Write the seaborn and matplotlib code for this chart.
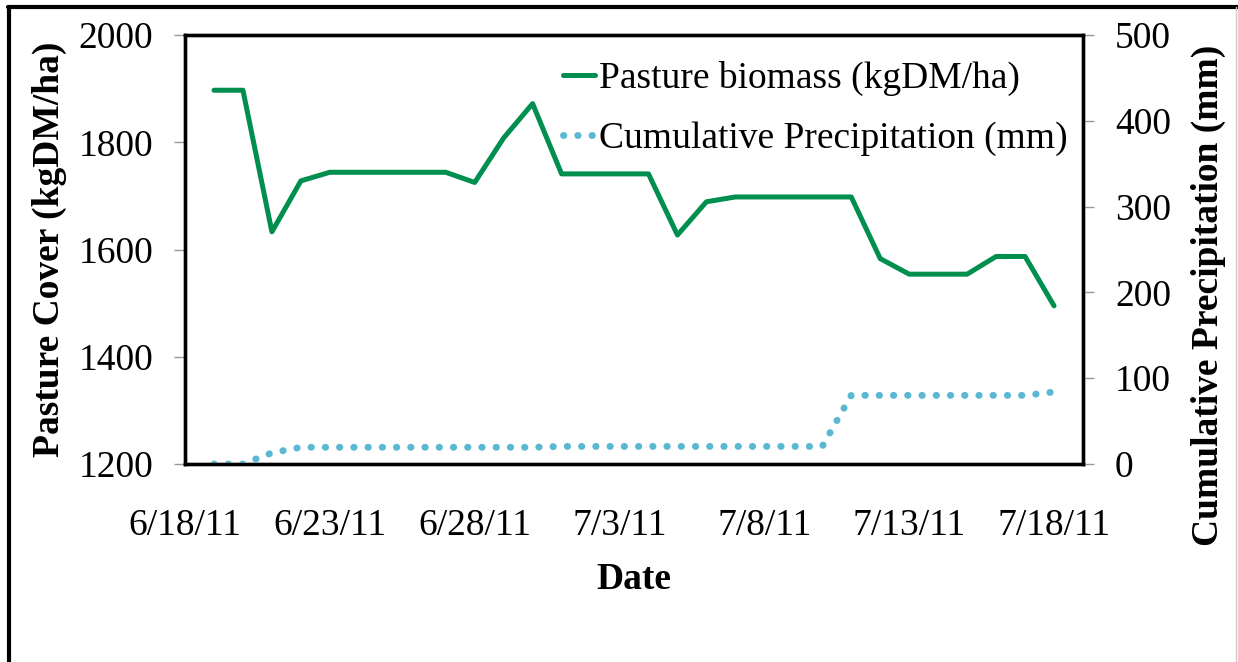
import matplotlib
matplotlib.use("Agg")
import matplotlib.pyplot as plt
import matplotlib.ticker as mticker
import matplotlib.dates as mdates
from matplotlib.lines import Line2D
import pandas as pd
import seaborn as sns

# data (one value per day, 6/19/11 .. 7/18/11)
dates = pd.date_range("2011-06-19", "2011-07-18", freq="D")
biomass = [1897, 1897, 1633, 1728, 1744, 1744, 1744, 1744, 1744, 1725,
           1808, 1872, 1741, 1741, 1741, 1741, 1627, 1689, 1698, 1698,
           1698, 1698, 1698, 1583, 1554, 1554, 1554, 1587, 1587, 1495]
precip = [0, 0, 13, 19.5, 19.5, 19.5, 19.5, 19.5, 19.5, 19.5,
          19.5, 19.5, 20.5, 20.5, 20.5, 20.5, 20.5, 20.5, 20.5, 20.5,
          20.5, 20.5, 80, 80, 80, 80, 80, 80, 80, 84]
tick_dates = pd.to_datetime(["2011-06-18", "2011-06-23", "2011-06-28", "2011-07-03",
                             "2011-07-08", "2011-07-13", "2011-07-18"])

df = pd.DataFrame({"date": dates, "biomass": biomass, "precip": precip})

sns.set_style("white")
plt.rcParams["font.family"] = ["Liberation Serif", "DejaVu Serif"]
plt.rcParams["font.size"] = 27
plt.rcParams["text.color"] = "black"
plt.rcParams["axes.labelcolor"] = "black"
plt.rcParams["xtick.labelcolor"] = "black"
plt.rcParams["ytick.labelcolor"] = "black"

fs = 27
green = "#008F4E"
blue = "#5BB8D3"

fig = plt.figure(figsize=(12.38, 6.62), dpi=100)
ax = fig.add_axes([185 / 1238, 1 - 464 / 662, 898 / 1238, 429 / 662])
ax2 = ax.twinx()

sns.lineplot(data=df, x="date", y="biomass", ax=ax, color=green, linewidth=3.6,
             label="Pasture biomass (kgDM/ha)", legend=False)
sns.lineplot(data=df, x="date", y="precip", ax=ax2, color=blue, linewidth=5,
             linestyle=(0, (0.05, 2.0)), dash_capstyle="round",
             label="Cumulative Precipitation (mm)", legend=False)

ax.set_xlim(pd.Timestamp("2011-06-18"), pd.Timestamp("2011-07-19"))
ax.set_ylim(1200, 2000)
ax2.set_ylim(0, 500)
ax.set_yticks(range(1200, 2001, 200))
ax2.set_yticks(range(0, 501, 100))
ax.set_xticks(tick_dates)
ax.xaxis.set_major_formatter(mticker.FuncFormatter(
    lambda v, p: (lambda d: f"{d.month}/{d.day}/{d:%y}")(mdates.num2date(v))))

for a in (ax, ax2):
    for s in a.spines.values():
        s.set_linewidth(2.4)
        s.set_color("black")
    a.grid(False)

ax.tick_params(axis="x", direction="out", length=9, width=1, color="#999999", pad=23, labelsize=fs)
ax.tick_params(axis="y", direction="out", length=8, width=1, color="#999999", pad=15, labelsize=fs, left=True)
ax2.tick_params(axis="y", direction="out", length=8, width=1, color="#999999", pad=15, labelsize=fs, right=True)

ax.set_xlabel("Date", fontweight="bold", fontsize=fs, labelpad=14)
ax.set_ylabel("Pasture Cover (kgDM/ha)", fontweight="bold", fontsize=fs, labelpad=8)
ax2.set_ylabel("Cumulative Precipitation (mm)", fontweight="bold", fontsize=fs)
# the right-hand title sits lower than the plot centre in the original
ax2.yaxis.set_label_coords(1.12, 0.394)

h1, l1 = ax.get_legend_handles_labels()
h2, l2 = ax2.get_legend_handles_labels()
leg = ax2.legend(h1 + h2, l1 + l2, loc="upper left", bbox_to_anchor=(548 / 1238, 1 - 46 / 662),
                 bbox_transform=fig.transFigure, frameon=False, fontsize=fs,
                 handlelength=0.85, handletextpad=0.12, labelspacing=0.68, borderaxespad=0)

# outer frame of the original picture
fig.add_artist(Line2D([9 / 1238, 9 / 1238], [0, 1 - 7 / 662], transform=fig.transFigure,
                      color="black", linewidth=3))
fig.add_artist(Line2D([8 / 1238, 1], [1 - 7 / 662, 1 - 7 / 662], transform=fig.transFigure,
                      color="black", linewidth=3))
fig.add_artist(Line2D([1236 / 1238, 1236 / 1238], [0, 1 - 7 / 662], transform=fig.transFigure,
                      color="#cccccc", linewidth=1))

fig.savefig("out.png", dpi=100)
